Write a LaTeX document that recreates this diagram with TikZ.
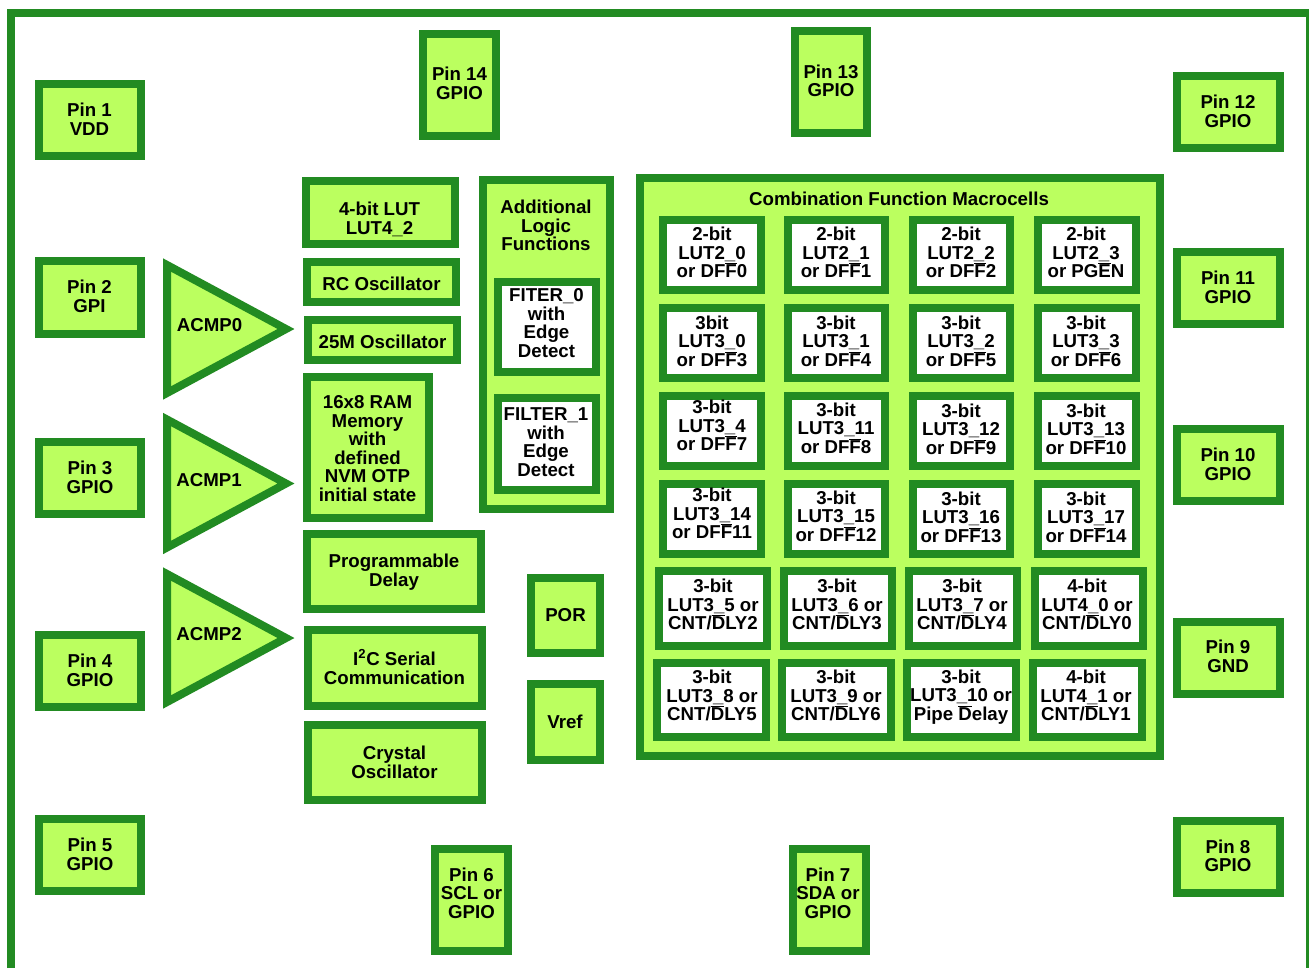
\documentclass[tikz,border=0pt]{standalone}
\usepackage{fontspec}
\setmainfont{Liberation Sans}
\newcommand{\barred}[1]{\setbox0\hbox{#1}\rlap{\rule[\dimexpr\ht0+0.5pt\relax]{\wd0}{0.8pt}}\box0 }
\tikzset{
  chipline/.style={color={rgb, 255:red, 34; green, 139; blue, 34 },line width=6pt},
  greenblock/.style={chipline,fill={rgb, 255:red, 187; green, 255; blue, 95 }},
  whitecell/.style={chipline,fill=white},
  blocktext/.style={inner sep=0pt,align=center,font=\fontsize{14}{13.9}\selectfont\bfseries}
}
\begin{document}
\begin{tikzpicture}[x=0.75pt,y=0.75pt,yscale=-1,xscale=1]
\useasboundingbox (0,0) rectangle (1309,968);

%Shape: Chip outline
\draw [chipline] (11,968) -- (11,13) -- (1310,13) -- (1310,968);

%Shape: Pin rectangles, left
\draw [greenblock] (39,84) rectangle (141,156);
\draw [greenblock] (39,261) rectangle (141,334);
\draw [greenblock] (39,442) rectangle (141,514);
\draw [greenblock] (39,635) rectangle (141,707);
\draw [greenblock] (39,819) rectangle (141,891);
%Shape: Pin rectangles, top and bottom
\draw [greenblock] (423,34) rectangle (496,136);
\draw [greenblock] (795,31) rectangle (867,133);
\draw [greenblock] (435,849) rectangle (508,951);
\draw [greenblock] (793,849) rectangle (866,951);
%Shape: Pin rectangles, right
\draw [greenblock] (1177,76) rectangle (1280,148);
\draw [greenblock] (1177,252) rectangle (1280,324);
\draw [greenblock] (1177,429) rectangle (1280,501);
\draw [greenblock] (1177,622) rectangle (1280,694);
\draw [greenblock] (1177,821) rectangle (1280,893);

%Shape: Triangle
\draw [greenblock] (167,265) -- (286,329) -- (167,393) -- cycle;
\draw [greenblock] (167,419.5) -- (286,483.5) -- (167,547.5) -- cycle;
\draw [greenblock] (167,574) -- (286,638) -- (167,702) -- cycle;

%Shape: Rectangle
\draw [greenblock] (306,181) rectangle (455,244);
\draw [greenblock] (307,262) rectangle (456,302);
\draw [greenblock] (308,320) rectangle (457,360);
\draw [greenblock] (307,377) rectangle (429,518);
\draw [greenblock] (307,534) rectangle (481,609);
\draw [greenblock] (308,630) rectangle (482,706);
\draw [greenblock] (308,725) rectangle (482,800);
\draw [greenblock] (531,578) rectangle (600,653);
\draw [greenblock] (531,684) rectangle (600,760);

%Shape: Additional logic
\draw [greenblock] (483,180) rectangle (610,509);
\draw [whitecell] (498,282) rectangle (596,372);
\draw [whitecell] (498,398) rectangle (596,490);

%Shape: Macrocell block
\draw [greenblock] (640,178) rectangle (1160,756);
\draw [whitecell] (663,220) rectangle (761,290);
\draw [whitecell] (788,220) rectangle (885,290);
\draw [whitecell] (913,220) rectangle (1010,290);
\draw [whitecell] (1038,220) rectangle (1136,290);
\draw [whitecell] (663,308) rectangle (761,378);
\draw [whitecell] (788,308) rectangle (885,378);
\draw [whitecell] (913,308) rectangle (1010,378);
\draw [whitecell] (1038,308) rectangle (1136,378);
\draw [whitecell] (663,396) rectangle (761,466);
\draw [whitecell] (788,396) rectangle (885,466);
\draw [whitecell] (913,396) rectangle (1010,466);
\draw [whitecell] (1038,396) rectangle (1136,466);
\draw [whitecell] (663,484) rectangle (761,554);
\draw [whitecell] (788,484) rectangle (885,554);
\draw [whitecell] (913,484) rectangle (1010,554);
\draw [whitecell] (1038,484) rectangle (1136,554);
\draw [whitecell] (659,571) rectangle (767,646);
\draw [whitecell] (784,571) rectangle (892,646);
\draw [whitecell] (909,571) rectangle (1017,646);
\draw [whitecell] (1035,571) rectangle (1143,646);
\draw [whitecell] (657,663) rectangle (766,737);
\draw [whitecell] (782,663) rectangle (891,737);
\draw [whitecell] (907,663) rectangle (1016,737);
\draw [whitecell] (1033,663) rectangle (1142,737);

% Text Node
\draw (89.5,119.3) node (pinone) [blocktext] {Pin 1\\VDD};
\draw (89.5,296.3) node (pintwo) [blocktext] {Pin 2\\GPI};
\draw (90,477.3) node (pinthree) [blocktext] {Pin 3\\GPIO};
\draw (90,670.3) node (pinfour) [blocktext] {Pin 4\\GPIO};
\draw (90,854.3) node (pinfive) [blocktext] {Pin 5\\GPIO};
\draw (471.5,893) node (pinsix) [blocktext] {Pin 6\\SCL or\\GPIO};
\draw (828,893) node (pinseven) [blocktext] {Pin 7\\SDA or\\GPIO};
\draw (1228,855.8) node (pineight) [blocktext] {Pin 8\\GPIO};
\draw (1228,656.3) node (pinnine) [blocktext] {Pin 9\\GND};
\draw (1228,464.3) node (pinten) [blocktext] {Pin 10\\GPIO};
\draw (1228,287.3) node (pineleven) [blocktext] {Pin 11\\GPIO};
\draw (1228,111.3) node (pintwelve) [blocktext] {Pin 12\\GPIO};
\draw (831,80.8) node (pinthirteen) [blocktext] {Pin 13\\GPIO};
\draw (459.5,83.3) node (pinfourteen) [blocktext] {Pin 14\\GPIO};
% Text Node
\draw (209.5,325) node (acmpzero) [blocktext] {ACMP0};
\draw (209,480) node (acmpone) [blocktext] {ACMP1};
\draw (209,634) node (acmptwo) [blocktext] {ACMP2};
% Text Node
\draw (379.5,219.3) node (lutfour) [blocktext] {4-bit LUT\\LUT4\_2};
\draw (381.5,284) node (rcosc) [blocktext] {RC Oscillator};
\draw (382.5,342) node (mosc) [blocktext] {25M Oscillator};
\draw (367.5,448.5) node (ram) [blocktext] {16x8 RAM\\Memory\\with\\defined\\NVM OTP\\initial state};
\draw (394,572) node (progdelay) [blocktext] {Programmable\\Delay};
\draw (394.5,667) node (itwoc) [blocktext] {I\textsuperscript{2}C Serial\\Communication};
\draw (394.5,762.3) node (crystal) [blocktext] {Crystal\\Oscillator};
\draw (565.5,615) node (por) [blocktext] {POR};
\draw (565,722) node (vref) [blocktext] {Vref};
% Text Node
\draw (546,225.5) node (addlogic) [blocktext] {Additional\\Logic\\Functions};
\draw (546.5,323) node (filterzero) [blocktext] {FITER\_0\\with\\Edge\\Detect};
\draw (546,442) node (filterone) [blocktext] {FILTER\_1\\with\\Edge\\Detect};
% Text Node
\draw (899,199) node (combtitle) [blocktext] {Combination Function Macrocells};
\draw (712,252.5) node (cellaa) [blocktext] {2-bit\\LUT2\_0\\or DF\barred{F}0};
\draw (836,252.5) node (cellab) [blocktext] {2-bit\\LUT2\_1\\or DF\barred{F}1};
\draw (961,252.5) node (cellac) [blocktext] {2-bit\\LUT2\_2\\or DF\barred{F}2};
\draw (1086,252.5) node (cellad) [blocktext] {2-bit\\LUT2\_3\\or PG\barred{E}N};
\draw (712,341) node (cellba) [blocktext] {3bit\\LUT3\_0\\or DF\barred{F}3};
\draw (836,341) node (cellbb) [blocktext] {3-bit\\LUT3\_1\\or DF\barred{F}4};
\draw (961,341) node (cellbc) [blocktext] {3-bit\\LUT3\_2\\or DF\barred{F}5};
\draw (1086,341) node (cellbd) [blocktext] {3-bit\\LUT3\_3\\or DF\barred{F}6};
\draw (712,425.5) node (cellca) [blocktext] {3-bit\\LUT3\_4\\or DF\barred{F}7};
\draw (836,428) node (cellcb) [blocktext] {3-bit\\LUT3\_11\\or DF\barred{F}8};
\draw (961,429) node (cellcc) [blocktext] {3-bit\\LUT3\_12\\or DF\barred{F}9};
\draw (1086,429) node (cellcd) [blocktext] {3-bit\\LUT3\_13\\or DF\barred{F}10};
\draw (712,513.5) node (cellda) [blocktext] {3-bit\\LUT3\_14\\or DF\barred{F}11};
\draw (836,516) node (celldb) [blocktext] {3-bit\\LUT3\_15\\or DF\barred{F}12};
\draw (961,517) node (celldc) [blocktext] {3-bit\\LUT3\_16\\or DF\barred{F}13};
\draw (1086,517) node (celldd) [blocktext] {3-bit\\LUT3\_17\\or DF\barred{F}14};
\draw (713,604.5) node (cellea) [blocktext] {3-bit\\LUT3\_5 or\\CNT/\barred{D}LY2};
\draw (837,604.5) node (celleb) [blocktext] {3-bit\\LUT3\_6 or\\CNT/\barred{D}LY3};
\draw (962,604.5) node (cellec) [blocktext] {3-bit\\LUT3\_7 or\\CNT/\barred{D}LY4};
\draw (1087,604.5) node (celled) [blocktext] {4-bit\\LUT4\_0 or\\CNT/\barred{D}LY0};
\draw (712,695.5) node (cellfa) [blocktext] {3-bit\\LUT3\_8 or\\CNT/\barred{D}LY5};
\draw (836,695.5) node (cellfb) [blocktext] {3-bit\\LUT3\_9 or\\CNT/\barred{D}LY6};
\draw (961,697) node (cellfc) [blocktext] {3-bit\\LUT3\_10 or\\Pipe \barred{D}elay};
\draw (1086,695.5) node (cellfd) [blocktext] {4-bit\\LUT4\_1 or\\CNT/\barred{D}LY1};

\end{tikzpicture}
\end{document}
